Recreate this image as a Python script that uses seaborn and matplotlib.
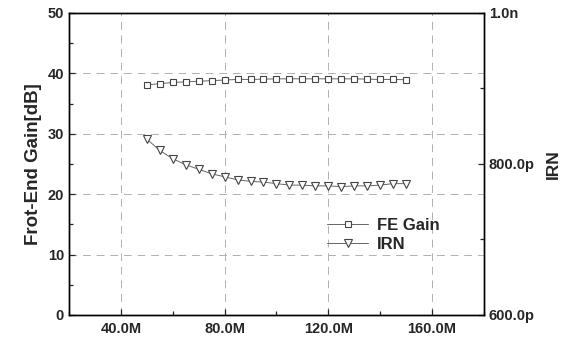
import matplotlib
matplotlib.use("Agg")
import matplotlib.pyplot as plt
import seaborn as sns
import pandas as pd
from matplotlib.ticker import FuncFormatter, MultipleLocator

# frequency in MHz
freq = [50, 55, 60, 65, 70, 75, 80, 85, 90, 95, 100,
        105, 110, 115, 120, 125, 130, 135, 140, 145, 150]
# front-end gain in dB
fe_gain = [38.1, 38.3, 38.5, 38.6, 38.7, 38.8, 38.9, 39.0, 39.0, 39.05, 39.1,
           39.1, 39.1, 39.1, 39.1, 39.1, 39.1, 39.05, 39.0, 39.0, 38.95]
# input referred noise (p units)
irn = [833, 818, 807, 799, 793, 787, 783, 779, 777, 776, 774,
       772, 772, 771, 771, 770, 771, 771, 772, 774, 774]

df = pd.DataFrame({"freq": freq, "gain": fe_gain, "irn": irn})

sns.set_style("ticks")
plt.rcParams["font.family"] = ["Liberation Sans", "DejaVu Sans"]
plt.rcParams["font.weight"] = "bold"

fig = plt.figure(figsize=(5.7, 3.42), dpi=100)
ax = fig.add_axes([0.121, 0.079, 0.728, 0.883])
ax2 = ax.twinx()

sns.lineplot(data=df, x="freq", y="gain", ax=ax, color="#666666", lw=0.7,
             marker="s", markersize=4.5, markerfacecolor="white",
             markeredgecolor="#444444", markeredgewidth=0.8, label="FE Gain",
             legend=False)
sns.lineplot(data=df, x="freq", y="irn", ax=ax2, color="#666666", lw=0.7,
             marker="v", markersize=6, markerfacecolor="white",
             markeredgecolor="#444444", markeredgewidth=0.8, label="IRN",
             legend=False)

ax.set_xlim(20, 180)
ax.set_ylim(0, 50)
ax2.set_ylim(600, 1000)

ax.xaxis.set_major_locator(MultipleLocator(40))
ax.xaxis.set_minor_locator(MultipleLocator(20))
ax.yaxis.set_major_locator(MultipleLocator(10))
ax.yaxis.set_minor_locator(MultipleLocator(5))
ax2.yaxis.set_major_locator(MultipleLocator(200))
ax2.yaxis.set_minor_locator(MultipleLocator(100))

ax.xaxis.set_major_formatter(FuncFormatter(lambda v, p: f"{v:.1f}M"))
ax2.yaxis.set_major_formatter(
    FuncFormatter(lambda v, p: "1.0n" if v >= 1000 else f"{v:.1f}p"))

for a in (ax, ax2):
    a.tick_params(which="both", direction="in", labelsize=10.5, width=0.9)
    a.tick_params(which="major", length=4)
    a.tick_params(which="minor", length=3)
    for s in a.spines.values():
        s.set_visible(True)
        s.set_linewidth(1.0)
        s.set_color("black")
ax.tick_params(axis="x", pad=5)

# dashed grid at major ticks
for xv in [40, 80, 120, 160]:
    ax.axvline(xv, color="#b0b0b0", lw=0.7, ls=(0, (8, 6)), zorder=0)
for yv in [10, 20, 30, 40]:
    ax.axhline(yv, color="#b0b0b0", lw=0.7, ls=(0, (8, 6)), zorder=0)

ax.set_xlabel("")
ax.set_ylabel("Frot-End Gain[dB]", fontsize=13.5, fontweight="bold", labelpad=4)
ax2.set_ylabel("IRN", fontsize=12.5, fontweight="bold", labelpad=8)

h1, l1 = ax.get_legend_handles_labels()
h2, l2 = ax2.get_legend_handles_labels()
ax2.legend(h1 + h2, l1 + l2, loc="upper left", bbox_to_anchor=(0.585, 0.37),
           frameon=False, handlelength=2.5, handletextpad=0.5,
           labelspacing=0.2, prop={"weight": "bold", "size": 12})

fig.savefig("out.png", dpi=100)
